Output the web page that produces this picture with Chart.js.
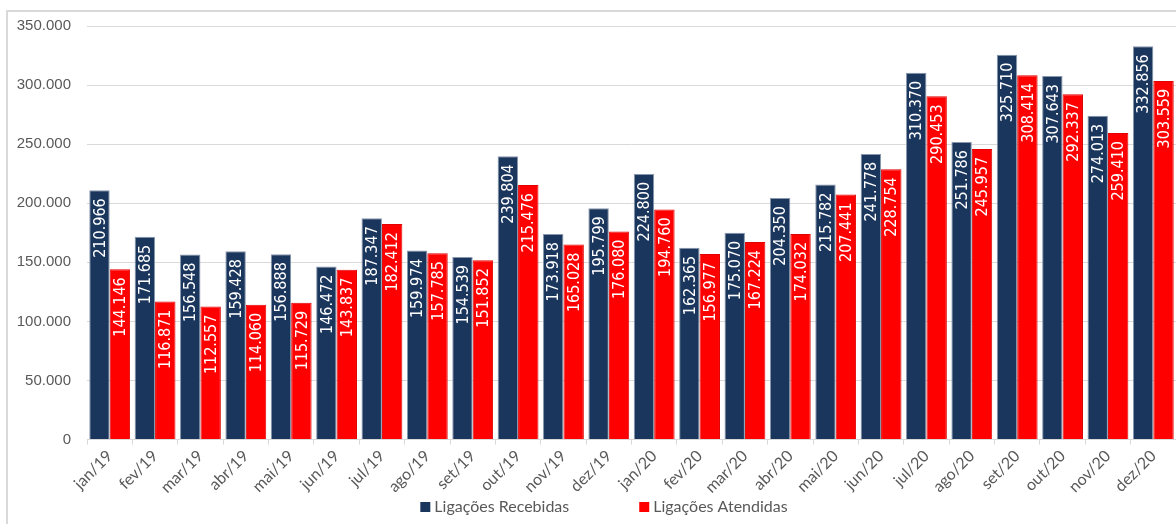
<!DOCTYPE html>
<html>
<head>
<meta charset="utf-8">
<script src="https://cdn.jsdelivr.net/npm/chart.js@4"></script>
<style>
	body { margin: 0; background: #fff; }
	#frame { position: absolute; left: 6px; top: 10px; width: 1200px; height: 600px; border-left: 2px solid #d9d9d9; border-top: 2px solid #d9d9d9; }
	#myChart { position: absolute; left: 0; top: 0; }
</style>
</head>
<body>
<div id="frame"></div>
<canvas id="myChart" width="1176" height="524"></canvas>
<script>
const meses = ['jan/19', 'fev/19', 'mar/19', 'abr/19', 'mai/19', 'jun/19', 'jul/19', 'ago/19', 'set/19', 'out/19', 'nov/19', 'dez/19',
	'jan/20', 'fev/20', 'mar/20', 'abr/20', 'mai/20', 'jun/20', 'jul/20', 'ago/20', 'set/20', 'out/20', 'nov/20', 'dez/20'];

const recebidas = [210966, 171685, 156548, 159428, 156888, 146472, 187347, 159974, 154539, 239804, 173918, 195799,
	224800, 162365, 175070, 204350, 215782, 241778, 310370, 251786, 325710, 307643, 274013, 332856];

const atendidas = [144146, 116871, 112557, 114060, 115729, 143837, 182412, 157785, 151852, 215476, 165028, 176080,
	194760, 156977, 167224, 174032, 207441, 228754, 290453, 245957, 308414, 292337, 259410, 303559];

const yTicks = [0, 50000, 100000, 150000, 200000, 250000, 300000, 350000];

function fmt(v) {
	return String(v).replace(/\B(?=(\d{3})+(?!\d))/g, '.');
}

// rotated white value labels inside the top of each bar
const barLabels = {
	id: 'barLabels',
	afterDatasetsDraw(chart) {
		const ctx = chart.ctx;
		ctx.save();
		ctx.font = '16px "Liberation Sans Narrow", "DejaVu Sans Condensed", sans-serif';
		ctx.fillStyle = '#ffffff';
		ctx.textAlign = 'right';
		ctx.textBaseline = 'middle';
		chart.data.datasets.forEach(function (ds, i) {
			chart.getDatasetMeta(i).data.forEach(function (bar, j) {
				ctx.save();
				ctx.translate(bar.x + 1, bar.y + 8);
				ctx.rotate(-Math.PI / 2);
				ctx.fillText(fmt(ds.data[j]), 0, 0);
				ctx.restore();
			});
		});
		ctx.restore();
	}
};

// legend drawn at the bottom, spaced like the original
const bottomLegend = {
	id: 'bottomLegend',
	afterDraw(chart) {
		const ctx = chart.ctx;
		ctx.save();
		ctx.font = '16px Lato, sans-serif';
		ctx.textBaseline = 'middle';
		const box = 10, gap = 4, spacing = 70;
		const items = chart.data.datasets.map(function (ds) {
			return { text: ds.label, color: ds.backgroundColor, w: box + gap + ctx.measureText(ds.label).width };
		});
		let total = items.reduce(function (s, it) { return s + it.w; }, 0) + spacing * (items.length - 1);
		let x = (chart.width + 32) / 2 - total / 2;
		const y = 507;
		items.forEach(function (it) {
			ctx.fillStyle = it.color;
			ctx.fillRect(x, y - box / 2, box, box);
			ctx.fillStyle = '#595959';
			ctx.fillText(it.text, x + box + gap, y);
			x += it.w + spacing;
		});
		ctx.restore();
	}
};

const chart1 = document.getElementById('myChart').getContext('2d');

new Chart(chart1, {
	type: 'bar',
	data: {
		labels: meses,
		datasets: [
			{
				label: 'Ligações Recebidas',
				data: recebidas,
				backgroundColor: '#1b365d',
				borderColor: '#8797ad',
				borderWidth: 1,
				categoryPercentage: 0.9,
				barPercentage: 1,
			},
			{
				label: 'Ligações Atendidas',
				data: atendidas,
				backgroundColor: '#ff0000',
				borderColor: '#e00000',
				borderWidth: 1,
				categoryPercentage: 0.9,
				barPercentage: 1,
			},
		],
	},
	options: {
		responsive: false,
		animation: false,
		layout: {
			padding: { left: 0, right: 0, top: 26, bottom: 25 }
		},
		plugins: {
			legend: { display: false },
			tooltip: { enabled: false }
		},
		scales: {
			x: {
				grid: { display: true, drawOnChartArea: false, color: '#d9d9d9', tickLength: 5 },
				border: { color: '#d9d9d9' },
				ticks: {
					color: '#595959',
					font: { family: 'Lato', size: 16 },
					minRotation: 45,
					maxRotation: 45,
					padding: 2
				}
			},
			y: {
				min: 0,
				max: 350000,
				afterBuildTicks: function (axis) {
					axis.ticks = yTicks.map(function (v) { return { value: v }; });
				},
				afterFit: function (axis) {
					axis.width = 87;
				},
				grid: { color: '#d9d9d9', drawTicks: false },
				border: { display: false },
				ticks: {
					color: '#595959',
					font: { family: 'Liberation Sans', size: 15 },
					padding: 16,
					callback: function (v) { return fmt(v); }
				}
			}
		}
	},
	plugins: [barLabels, bottomLegend]
});
</script>
</body>
</html>
